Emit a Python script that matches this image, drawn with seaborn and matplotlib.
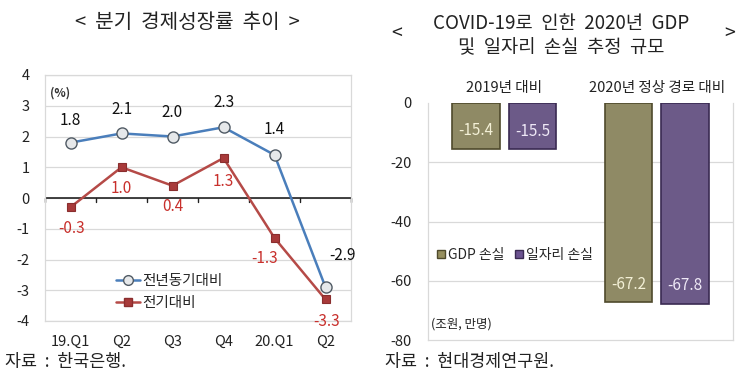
import numpy as np
import pandas as pd
import matplotlib
matplotlib.use("Agg")
import matplotlib.pyplot as plt
from matplotlib.lines import Line2D
from matplotlib.patches import Patch
import seaborn as sns

# ---------------- data ----------------
quarters = ["19.Q1", "Q2", "Q3", "Q4", "20.Q1", "Q2"]
yoy = [1.8, 2.1, 2.0, 2.3, 1.4, -2.9]          # 전년동기대비
qoq = [-0.3, 1.0, 0.4, 1.3, -1.3, -3.3]        # 전기대비
line_series = ["전년동기대비", "전기대비"]

groups = ["2019년 대비", "2020년 정상 경로 대비"]
gdp_loss = [-15.4, -67.2]
job_loss = [-15.5, -67.8]
bar_series = ["GDP 손실", "일자리 손실"]

left_yticks = [4, 3, 2, 1, 0, -1, -2, -3, -4]
right_yticks = [0, -20, -40, -60, -80]

# ---------------- style ----------------
sns.set_theme(style="white")
plt.rcParams["font.family"] = ["Noto Sans CJK KR", "DejaVu Sans"]

BLUE = "#4A7EBB"
RED = "#B54A47"
RED_TXT = "#C8302C"
OLIVE = "#968F5E"
PURPLE = "#6B5290"
GRID = "#D9D9D9"

fig = plt.figure(figsize=(7.5, 3.77), dpi=100)

# ---------------- left chart ----------------
axL = fig.add_axes([45/750, 1-321/377, 306/750, 246/377])
xs = np.arange(len(quarters))
df_line = pd.DataFrame({
    "x": np.concatenate([xs, xs]),
    "v": yoy + qoq,
    "s": [line_series[0]]*len(xs) + [line_series[1]]*len(xs),
})
sns.lineplot(data=df_line[df_line.s == line_series[0]], x="x", y="v", ax=axL,
             color=BLUE, lw=1.8, marker="o", markersize=8,
             markerfacecolor="#E6E8EA", markeredgecolor="#505A64", markeredgewidth=1.0,
             legend=False, zorder=4)
sns.lineplot(data=df_line[df_line.s == line_series[1]], x="x", y="v", ax=axL,
             color=RED, lw=1.8, marker="s", markersize=6,
             markerfacecolor="#A83A3A", markeredgecolor="#8A2E2E", markeredgewidth=0.8,
             legend=False, zorder=3)

axL.set_xlim(-0.5, len(quarters) - 0.5)
axL.set_ylim(-4, 4)
axL.set_yticks(left_yticks)
axL.set_yticklabels([str(t) for t in left_yticks], fontsize=10.5, color="#222222")
axL.set_xticks(xs)
axL.set_xticklabels(quarters, fontsize=10.5, color="#222222")
axL.tick_params(axis="y", length=0, pad=11)
axL.tick_params(axis="x", length=0, pad=10)
axL.set_xlabel("")
axL.set_ylabel("")
for t in left_yticks:
    axL.axhline(t, color=GRID, lw=0.9, zorder=0)
for sp in axL.spines.values():
    sp.set_color(GRID)
    sp.set_linewidth(0.9)
# zero axis with category-boundary ticks
axL.axhline(0, color="#222222", lw=1.2, zorder=2)
for b in np.arange(len(quarters) + 1) - 0.5:
    axL.plot([b, b], [0, -0.13], color="#222222", lw=1.0, zorder=2, clip_on=False)

# data labels
yoy_off = [(0, 10), (0, 11), (0, 11), (0, 12), (0, 12), (12, 17)]
for x, v, (dx, dy) in zip(xs, yoy, yoy_off):
    axL.annotate(f"{v:.1f}", (x, v), xytext=(dx, dy), textcoords="offset points",
                 ha="center", va="bottom", fontsize=11, color="#111111")
qoq_off = [(1, -9), (0, -9), (0, -9), (0, -11), (-7, -9), (1, -10)]
for x, v, (dx, dy) in zip(xs, qoq, qoq_off):
    axL.annotate(f"{v:.1f}", (x, v), xytext=(dx, dy), textcoords="offset points",
                 ha="center", va="top", fontsize=11, color=RED_TXT)

axL.text(0.015, 0.955, "(%)", transform=axL.transAxes, fontsize=8.5,
         fontweight="bold", color="#333333", va="top", ha="left")

hL = [Line2D([0], [0], color=BLUE, lw=1.8, marker="o", markersize=7,
             markerfacecolor="#E6E8EA", markeredgecolor="#505A64"),
      Line2D([0], [0], color=RED, lw=1.8, marker="s", markersize=6,
             markerfacecolor="#A83A3A", markeredgecolor="#8A2E2E")]
axL.legend(hL, line_series, loc="lower left", bbox_to_anchor=(0.19, -0.01),
           frameon=False, fontsize=10.5, handlelength=1.6, handletextpad=0.2,
           labelspacing=0.55)

# ---------------- right chart ----------------
axR = fig.add_axes([428/750, 1-340/377, 305/750, 237/377])
df_bar = pd.DataFrame({
    "group": groups * 2,
    "value": gdp_loss + job_loss,
    "series": [bar_series[0]]*len(groups) + [bar_series[1]]*len(groups),
})
sns.barplot(data=df_bar, x="group", y="value", hue="series", order=groups,
            hue_order=bar_series, palette=[OLIVE, PURPLE], ax=axR,
            width=0.74, gap=0.16, legend=False, zorder=3)
for i, cont in enumerate(axR.containers):
    for p in cont.patches:
        p.set_edgecolor(["#4F4A2C", "#3A2A52"][i])
        p.set_linewidth(1.2)
    txtc = ["#F3F0D6", "#EEE8F6"][i]
    axR.bar_label(cont, labels=[f"{v:.1f}" for v in cont.datavalues],
                  label_type="edge", padding=-19, fontsize=11, color=txtc)

axR.set_ylim(-80, 0)
axR.set_xlim(-0.5, len(groups) - 0.5)
axR.set_yticks(right_yticks)
axR.set_yticklabels([str(t) for t in right_yticks], fontsize=10.5, color="#222222")
axR.xaxis.tick_top()
axR.set_xticks(range(len(groups)))
axR.set_xticklabels(groups, fontsize=10.5, color="#222222")
axR.tick_params(axis="both", length=0)
axR.tick_params(axis="x", pad=6)
axR.tick_params(axis="y", pad=12)
axR.set_xlabel("")
axR.set_ylabel("")
for t in right_yticks[1:-1]:
    axR.axhline(t, color=GRID, lw=0.9, zorder=0)
for name, sp in axR.spines.items():
    sp.set_color(GRID)
    sp.set_linewidth(0.9)
axR.spines["top"].set_visible(False)

hR = [Patch(facecolor=OLIVE, edgecolor="#4F4A2C"),
      Patch(facecolor=PURPLE, edgecolor="#3A2A52")]
legR = axR.legend(hR, bar_series, loc="center left", bbox_to_anchor=(-0.01, 0.36),
                  frameon=False, ncol=2, fontsize=10, handlelength=0.55,
                  handleheight=0.55, handletextpad=0.2, columnspacing=0.8)
legR.set_zorder(5)
axR.text(0.01, 0.04, "(조원, 만명)", transform=axR.transAxes, fontsize=9,
         color="#222222", va="bottom", ha="left")

# ---------------- titles & sources ----------------
fig.text(187/750, 1-22/377, "<  분기  경제성장률  추이  >", ha="center", va="center",
         fontsize=14.5, color="#222222")
fig.text(561/750, 1-23/377, "COVID-19로  인한  2020년  GDP", ha="center", va="center",
         fontsize=13.5, color="#222222")
fig.text(561/750, 1-48/377, "및  일자리  손실  추정  규모", ha="center", va="center",
         fontsize=13.5, color="#222222")
fig.text(397/750, 1-33/377, "<", ha="center", va="center", fontsize=14, color="#222222")
fig.text(730/750, 1-33/377, ">", ha="center", va="center", fontsize=14, color="#222222")

fig.text(5/750, 1-362/377, "자료  :  한국은행.", ha="left", va="center",
         fontsize=12.5, color="#222222")
fig.text(385/750, 1-362/377, "자료  :  현대경제연구원.", ha="left", va="center",
         fontsize=12.5, color="#222222")

fig.savefig("out.png", dpi=100)
